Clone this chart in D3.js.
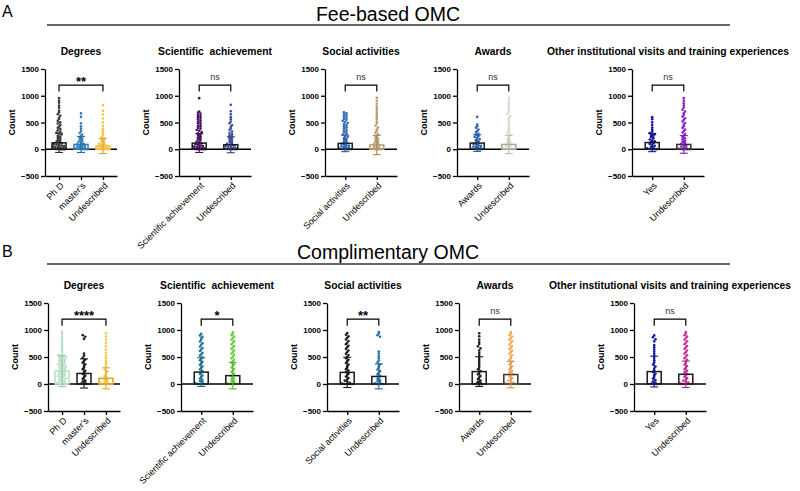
<!DOCTYPE html>
<html>
<head>
<meta charset="utf-8"/>
<style>
body { margin: 0; background: #fff; }
svg { display: block; font-family: Arial, "Liberation Sans", sans-serif; }
</style>
</head>
<body>
<svg id="chart" width="800" height="491"></svg>
<script src="https://cdnjs.cloudflare.com/ajax/libs/d3/7.8.5/d3.min.js"></script>
<script>
// ---- data ----
const panelTitles = ["Degrees", "Scientific  achievement", "Social activities", "Awards",
  "Other institutional visits and training experiences"];
const panelCats = [
  ["Ph D", "master\u2019s", "Undescribed"],
  ["Scientific achievement", "Undescribed"],
  ["Social activities", "Undescribed"],
  ["Awards", "Undescribed"],
  ["Yes", "Undescribed"]
];
const yTicks = [-500, 0, 500, 1000, 1500];

// Fee-based OMC
const feeMeans = [[120, 90, 60], [115, 85], [110, 80], [115, 90], [125, 90]];
const feeSds = [[180, 150, 140], [175, 150], [155, 180], [155, 170], [170, 165]];
const feeSig = ["**", "ns", "ns", "ns", "ns"];
const feePoints = [
  [
    [955, 905, 870, 815, 770, 720, 690, 655, 625, 590, 565, 530, 505, 480, 455, 425, 400, 380, 355, 330, 310, 295, 275, 250, 235, 210, 195, 170, 155, 140, 125, 110, 100, 90, 80, 70, 62, 55, 48, 40, 32, 25, 20, 14, 10, 6, 4, 2, 0, 0, 0, 0],
    [670, 605, 485, 430, 385, 340, 305, 275, 245, 225, 200, 180, 160, 140, 120, 105, 92, 80, 70, 60, 50, 40, 30, 22, 15, 10, 5, 0, 0, 0],
    [825, 720, 650, 575, 500, 435, 380, 335, 295, 260, 230, 205, 180, 160, 140, 120, 100, 90, 78, 68, 58, 48, 38, 30, 20, 12, 6, 0, 0, 0, 0]
  ],
  [
    [955, 705, 685, 665, 640, 620, 600, 585, 560, 540, 520, 500, 485, 460, 440, 425, 400, 385, 360, 345, 320, 300, 285, 265, 245, 225, 205, 185, 165, 145, 125, 110, 95, 82, 70, 60, 50, 42, 34, 26, 18, 12, 6, 2, 0, 0, 0, 0],
    [830, 710, 655, 600, 560, 520, 485, 450, 420, 390, 360, 330, 305, 280, 260, 240, 220, 200, 180, 160, 140, 120, 100, 90, 78, 66, 55, 45, 35, 26, 18, 10, 4, 0, 0, 0, 0]
  ],
  [
    [690, 670, 650, 630, 612, 590, 572, 550, 530, 512, 490, 470, 452, 430, 410, 392, 370, 350, 330, 312, 290, 270, 250, 232, 210, 190, 172, 150, 132, 115, 100, 88, 76, 64, 54, 44, 34, 25, 16, 8, 2, 0, 0, 0],
    [960, 905, 850, 800, 760, 720, 680, 640, 600, 560, 520, 480, 440, 405, 370, 340, 310, 280, 250, 225, 200, 180, 160, 140, 120, 100, 82, 64, 48, 34, 20, 10, 0, 0, 0]
  ],
  [
    [605, 460, 430, 400, 370, 340, 315, 290, 270, 250, 230, 210, 190, 170, 150, 130, 115, 100, 88, 76, 64, 52, 40, 30, 20, 10, 4, 0, 0, 0],
    [960, 910, 865, 820, 780, 740, 700, 660, 620, 580, 540, 500, 460, 420, 380, 345, 310, 275, 245, 215, 185, 160, 135, 112, 92, 74, 58, 42, 28, 16, 6, 0, 0, 0]
  ],
  [
    [600, 560, 505, 455, 405, 370, 335, 305, 292, 282, 270, 252, 230, 205, 182, 162, 148, 135, 118, 100, 82, 64, 46, 30, 16, 6, 0, 0, 0],
    [955, 905, 860, 820, 780, 740, 705, 672, 640, 610, 580, 550, 520, 490, 460, 430, 400, 370, 342, 312, 285, 255, 228, 205, 182, 160, 140, 120, 100, 84, 68, 52, 38, 26, 15, 6, 0, 0, 0, 0]
  ]
];

// Complimentary OMC
const compMeans = [[240, 195, 105], [220, 155], [215, 140], [230, 175], [230, 180]];
const compSds = [[290, 270, 195], [265, 245], [280, 230], [275, 245], [285, 245]];
const compSig = ["****", "*", "**", "ns", "ns"];
const compPoints = [
  [
    [965, 925, 880, 845, 805, 765, 720, 685, 645, 605, 565, 530, 515, 505, 490, 480, 465, 450, 440, 425, 410, 400, 385, 370, 360, 345, 330, 320, 305, 290, 280, 265, 250, 240, 225, 210, 200, 185, 170, 160, 145, 130, 120, 105, 90, 80, 65, 50, 40, 25, 15, 5, 0, 0, 0],
    [905, 875, 835, 565, 525, 485, 455, 425, 395, 365, 335, 305, 275, 245, 215, 185, 155, 125, 95, 65, 45, 25, 10, 0, 0],
    [940, 880, 820, 760, 700, 640, 580, 525, 475, 425, 385, 345, 305, 265, 235, 205, 175, 145, 115, 90, 68, 48, 30, 15, 5, 0, 0, 0, 0]
  ],
  [
    [930, 900, 872, 845, 815, 785, 755, 725, 695, 668, 640, 610, 580, 552, 525, 495, 468, 440, 410, 382, 355, 325, 298, 270, 240, 212, 185, 158, 130, 102, 78, 55, 35, 18, 6, 0, 0, 0, 0],
    [962, 935, 905, 878, 850, 820, 792, 765, 735, 705, 678, 650, 620, 592, 565, 535, 505, 478, 450, 420, 392, 365, 335, 305, 278, 250, 222, 195, 168, 140, 112, 88, 66, 46, 28, 14, 4, 0, 0, 0, 0]
  ],
  [
    [942, 912, 882, 855, 825, 795, 765, 738, 708, 680, 650, 620, 592, 562, 535, 505, 478, 448, 420, 390, 362, 332, 305, 275, 248, 220, 192, 165, 138, 110, 85, 62, 42, 24, 10, 0, 0, 0, 0],
    [962, 935, 905, 875, 600, 560, 515, 475, 435, 400, 365, 330, 300, 268, 238, 208, 178, 150, 122, 96, 72, 50, 30, 14, 0, 0, 0]
  ],
  [
    [940, 885, 825, 780, 740, 700, 660, 620, 578, 540, 500, 462, 420, 380, 342, 305, 272, 240, 210, 180, 150, 120, 92, 65, 42, 22, 8, 0, 0],
    [962, 935, 905, 878, 848, 820, 790, 762, 732, 705, 675, 648, 618, 590, 560, 532, 502, 475, 445, 418, 388, 360, 330, 302, 275, 245, 218, 190, 162, 135, 108, 84, 62, 42, 26, 12, 4, 0, 0, 0, 0, 0]
  ],
  [
    [900, 868, 830, 790, 722, 682, 640, 600, 562, 520, 482, 440, 402, 360, 322, 282, 250, 220, 190, 160, 130, 100, 72, 45, 22, 8, 0, 0],
    [962, 935, 905, 878, 850, 820, 792, 762, 735, 705, 678, 648, 620, 590, 562, 532, 505, 475, 448, 418, 390, 360, 332, 302, 275, 245, 218, 190, 162, 135, 108, 84, 62, 42, 26, 12, 4, 0, 0, 0, 0, 0]
  ]
];

// ---- colours ----
const feeColors = [["#3a3a3a", "#2c7bb6", "#f5c242"], ["#4b0f5f", "#3c4c9e"], ["#2f68b5", "#b89c6c"], ["#2d62ae", "#dcd8cc"], ["#16169c", "#8b20c6"]];
const feeStrokes = [["#1a1a1a", "#2c7bb6", "#f5c242"], ["#1a1a1a", "#1a1a1a"], ["#1a1a1a", "#b89c6c"], ["#1a1a1a", "#a8a498"], ["#1a1a1a", "#333333"]];
const compColors = [["#b6dfc5", "#1f1f1f", "#f7c843"], ["#1e7898", "#6ccc3c"], ["#1f1f1f", "#2472ab"], ["#1f1f1f", "#f3a95c"], ["#1a1aa4", "#c7329c"]];
const compStrokes = [["#b6dfc5", "#1a1a1a", "#d9a520"], ["#1a1a1a", "#1a1a1a"], ["#1a1a1a", "#1a1a1a"], ["#1a1a1a", "#333333"], ["#1a1a1a", "#1a1a1a"]];

// ---- layout ----
const rows = [
  { letter: "A", section: "Fee-based OMC", means: feeMeans, sds: feeSds, sig: feeSig, pts: feePoints,
    colors: feeColors, strokes: feeStrokes,
    letterY: 17, headY: 21, lineY: 25, titleY: 55, top: 69, bottom: 176, x0: [45, 179, 325, 457, 632] },
  { letter: "B", section: "Complimentary OMC", means: compMeans, sds: compSds, sig: compSig, pts: compPoints,
    colors: compColors, strokes: compStrokes,
    letterY: 257, headY: 259, lineY: 264, titleY: 289, top: 303, bottom: 411, x0: [48, 181, 327, 459, 634] }
];
const panelW = 72;
const svg = d3.select("#chart");

// spread points sideways inside each pixel row, like a scatter dot plot
function swarm(vals, y, cx) {
  const step = 2.3, halfW = 6.2;
  const byRow = d3.group(vals.map(v => ({ v, py: y(v) })), d => Math.round(d.py / step));
  const out = [];
  byRow.forEach(list => {
    const k = list.length;
    const s = k > 1 ? Math.min(2.5, 2 * halfW / (k - 1)) : 0;
    list.forEach((d, i) => out.push({ x: cx + (i - (k - 1) / 2) * s, y: d.py }));
  });
  return out;
}

rows.forEach(row => {
  svg.append("text").attr("x", 2).attr("y", row.letterY)
    .attr("font-size", 16).text(row.letter);
  svg.append("text").attr("x", 388).attr("y", row.headY)
    .attr("text-anchor", "middle").attr("font-size", 19.5).text(row.section);
  svg.append("line").attr("x1", 47).attr("x2", 730).attr("y1", row.lineY).attr("y2", row.lineY)
    .attr("stroke", "#333").attr("stroke-width", 1.5);

  panelTitles.forEach((title, p) => {
    const x0 = row.x0[p];
    const cats = panelCats[p];
    const g = svg.append("g");
    const x = d3.scalePoint().domain(cats).range([x0, x0 + panelW]).padding(0.64);
    const y = d3.scaleLinear().domain([-500, 1500]).range([row.bottom, row.top]);

    g.append("text").attr("x", x0 + panelW / 2).attr("y", row.titleY)
      .attr("text-anchor", "middle").attr("font-size", 10.3).attr("font-weight", "bold")
      .style("white-space", "pre").text(title);

    g.append("text")
      .attr("transform", `translate(${x0 - 30},${(row.top + row.bottom) / 2}) rotate(-90)`)
      .attr("text-anchor", "middle").attr("font-size", 9).attr("font-weight", "bold").text("Count");

    const ya = g.append("g").attr("transform", `translate(${x0},0)`)
      .call(d3.axisLeft(y).tickValues(yTicks).tickFormat(d3.format("d"))
        .tickSize(4).tickSizeOuter(0).tickPadding(2));
    ya.selectAll("text").attr("font-size", 8).attr("font-weight", "bold").attr("fill", "#000").attr("font-family", null);
    ya.selectAll("path,line").attr("stroke", "#000").attr("stroke-width", 1.3);

    const xa = g.append("g").attr("transform", `translate(0,${row.bottom})`)
      .call(d3.axisBottom(x).tickSize(4).tickSizeOuter(0).tickFormat(""));
    xa.selectAll("path,line").attr("stroke", "#000").attr("stroke-width", 1.3);

    g.append("line").attr("x1", x0).attr("x2", x0 + panelW).attr("y1", y(0)).attr("y2", y(0))
      .attr("stroke", "#000").attr("stroke-width", 1.4);

    cats.forEach((c, i) => {
      const cx = x(c);
      const col = row.colors[p][i];
      g.append("text")
        .attr("transform", `translate(${cx + 3},${row.bottom + 8}) rotate(-45)`)
        .attr("text-anchor", "end").attr("dy", "0.35em").attr("font-size", 9).text(c);

      g.append("g").selectAll("circle")
        .data(swarm(row.pts[p][i], y, cx))
        .join("circle")
        .attr("cx", d => d.x).attr("cy", d => d.y).attr("r", 1.3).attr("fill", col);

      const m = row.means[p][i], sd = row.sds[p][i];
      g.append("rect").attr("x", cx - 7).attr("width", 14)
        .attr("y", y(m)).attr("height", y(0) - y(m))
        .attr("fill", "none").attr("stroke", row.strokes[p][i]).attr("stroke-width", 1.5);

      const ec = d3.color(col).darker(0.4).formatHex();
      const eb = g.append("g").attr("stroke", ec).attr("stroke-width", 1.1);
      eb.append("line").attr("x1", cx).attr("x2", cx).attr("y1", y(m + sd)).attr("y2", y(m - sd));
      [m + sd, m - sd].forEach(v => {
        eb.append("line").attr("x1", cx - 4).attr("x2", cx + 4).attr("y1", y(v)).attr("y2", y(v));
      });
    });

    const xa0 = x(cats[0]), xa1 = x(cats[cats.length - 1]);
    g.append("path")
      .attr("d", `M${xa0},${y(1080)}V${y(1200)}H${xa1}V${y(1080)}`)
      .attr("fill", "none").attr("stroke", "#000").attr("stroke-width", 1.2);
    const sig = row.sig[p];
    const ns = sig === "ns";
    g.append("text").attr("x", (xa0 + xa1) / 2)
      .attr("y", ns ? y(1240) - 3 : y(1200) + 1)
      .attr("text-anchor", "middle")
      .attr("font-size", ns ? 9 : 13).attr("font-weight", ns ? "normal" : "bold")
      .attr("fill", ns ? "#333" : "#000").text(sig);
  });
});
</script>
</body>
</html>
